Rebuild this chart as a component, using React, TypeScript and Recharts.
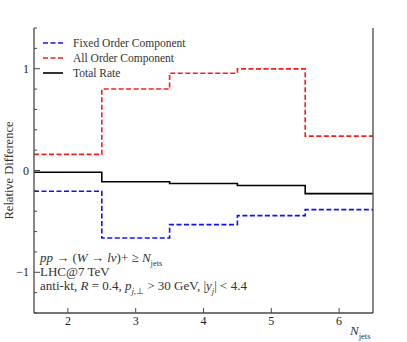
import React from "react";
import { LineChart, Line, XAxis, YAxis } from "recharts";

const binEdges = [1.5, 2.5, 3.5, 4.5, 5.5, 6.5];
const xTicks = [2, 3, 4, 5, 6];
const yTicks = [-1.4, -1.2, -1.0, -0.8, -0.6, -0.4, -0.2, 0, 0.2, 0.4, 0.6, 0.8, 1.0, 1.2, 1.4];
const fixedOrder = [-0.204, -0.663, -0.532, -0.443, -0.384];
const allOrder = [0.158, 0.8, 0.956, 0.998, 0.338];
const totalRate = [-0.017, -0.11, -0.128, -0.148, -0.227];
const seriesLabels = ["Fixed Order Component", "All Order Component", "Total Rate"];

const data = binEdges.map((x, i) => {
  const k = Math.min(i, fixedOrder.length - 1);
  return { x, fixed: fixedOrder[k], all: allOrder[k], total: totalRate[k] };
});

const W = 407;
const H = 342;
const PL = 34;
const PR = 373;
const PT = 28;
const PB = 313;
const FRAME = "#484848";
const FONT = "'Liberation Serif', 'Times New Roman', serif";
const BLUE = "#1010ff";
const RED = "#ff1a1a";
const DASH = "5 2.5";

const isMajor = (v: number) => Math.abs(v - Math.round(v)) < 1e-6;
const fmt = (v: number) => {
  const r = Math.round(v);
  return r < 0 ? "\u2212" + Math.abs(r) : String(r);
};

const LeftTick = (props: any) => {
  const { y, payload } = props;
  const v = payload.value;
  const major = isMajor(v);
  return (
    <g>
      <line x1={PL} x2={PL + (major ? 6 : 3)} y1={y} y2={y} stroke={FRAME} strokeWidth={1} />
      {major && (
        <text x={PL - 5} y={y} dy={4} textAnchor="end" fontSize={12} fontFamily={FONT} fill="#222">
          {fmt(v)}
        </text>
      )}
    </g>
  );
};

const RightTick = (props: any) => {
  const { y, payload } = props;
  const major = isMajor(payload.value);
  return <line x1={PR - (major ? 6 : 3)} x2={PR} y1={y} y2={y} stroke={FRAME} strokeWidth={1} />;
};

const BottomTick = (props: any) => {
  const { x, payload } = props;
  return (
    <g>
      <line x1={x} x2={x} y1={PB - 5} y2={PB} stroke={FRAME} strokeWidth={1} />
      <text x={x} y={PB + 12} textAnchor="middle" fontSize={12} fontFamily={FONT} fill="#222">
        {payload.value}
      </text>
    </g>
  );
};

const TopTick = (props: any) => {
  const { x } = props;
  return <line x1={x} x2={x} y1={PT} y2={PT + 5} stroke={FRAME} strokeWidth={1} />;
};

const legendItems = [
  { label: seriesLabels[0], color: BLUE, dash: DASH },
  { label: seriesLabels[1], color: RED, dash: DASH },
  { label: seriesLabels[2], color: "#000", dash: undefined },
];

const YLabel = () => {
  const cy = (PT + PB) / 2;
  return (
    <text
      x={13}
      y={cy}
      transform={`rotate(-90 13 ${cy})`}
      textAnchor="middle"
      fontSize={12.5}
      fontFamily={FONT}
      fill="#333"
    >
      Relative Difference
    </text>
  );
};

const subStyle = { fontSize: 8.5, lineHeight: 0 } as const;

export default function App() {
  return (
    <div style={{ position: "absolute", left: 0, top: 0, width: W, height: H, background: "#fff" }}>
      <LineChart width={W} height={H} data={data} margin={{ top: PT, right: 0, bottom: 0, left: 0 }}>
        <XAxis
          dataKey="x"
          type="number"
          domain={[1.5, 6.5]}
          ticks={xTicks}
          height={H - PB}
          axisLine={{ stroke: FRAME, strokeWidth: 1.3 }}
          tickLine={false}
          tick={<BottomTick />}
          interval={0}
        />
        <XAxis
          xAxisId="top"
          dataKey="x"
          orientation="top"
          type="number"
          domain={[1.5, 6.5]}
          ticks={xTicks}
          height={0}
          axisLine={{ stroke: FRAME, strokeWidth: 1.3 }}
          tickLine={false}
          tick={<TopTick />}
          interval={0}
        />
        <YAxis
          type="number"
          domain={[-1.4, 1.4]}
          ticks={yTicks}
          width={PL}
          axisLine={{ stroke: FRAME, strokeWidth: 1.3 }}
          tickLine={false}
          tick={<LeftTick />}
          interval={0}
          label={<YLabel />}
        />
        <YAxis
          yAxisId="right"
          orientation="right"
          type="number"
          domain={[-1.4, 1.4]}
          ticks={yTicks}
          width={W - PR}
          axisLine={{ stroke: FRAME, strokeWidth: 1.3 }}
          tickLine={false}
          tick={<RightTick />}
          interval={0}
        />
        <Line
          dataKey="fixed"
          name={seriesLabels[0]}
          type="stepAfter"
          stroke={BLUE}
          strokeWidth={1.6}
          strokeDasharray={DASH}
          dot={false}
          isAnimationActive={false}
        />
        <Line
          dataKey="all"
          name={seriesLabels[1]}
          type="stepAfter"
          stroke={RED}
          strokeWidth={1.6}
          strokeDasharray={DASH}
          dot={false}
          isAnimationActive={false}
        />
        <Line
          dataKey="total"
          name={seriesLabels[2]}
          type="stepAfter"
          stroke="#000"
          strokeWidth={1.6}
          dot={false}
          isAnimationActive={false}
        />
      </LineChart>
      <div
        style={{
          position: "absolute",
          left: 42,
          top: 35,
          fontFamily: FONT,
          fontSize: 11.5,
          color: "#333",
        }}
      >
        {legendItems.map((it) => (
          <div key={it.label} style={{ display: "flex", alignItems: "center", height: 15 }}>
            <svg width={22} height={6} style={{ marginRight: 9 }}>
              <line x1={1} x2={21} y1={3} y2={3} stroke={it.color} strokeWidth={1.6} strokeDasharray={it.dash} />
            </svg>
            <span>{it.label}</span>
          </div>
        ))}
      </div>
      <div
        style={{
          position: "absolute",
          left: 40,
          top: 251,
          fontFamily: FONT,
          fontSize: 13,
          color: "#333",
          lineHeight: "14px",
          whiteSpace: "nowrap",
        }}
      >
        <div>
          <i>pp</i> → (<i>W</i> → <i>lν</i>)+ ≥ <i>N</i>
          <sub style={subStyle}>jets</sub>
        </div>
        <div>LHC@7 TeV</div>
        <div>
          anti-kt, <i>R</i> = 0.4, <i>p</i>
          <sub style={subStyle}>
            <i>j</i>,⊥
          </sub>{" "}
          &gt; 30 GeV, |<i>y</i>
          <sub style={subStyle}>
            <i>j</i>
          </sub>
          | &lt; 4.4
        </div>
      </div>
      <div
        style={{
          position: "absolute",
          left: 350,
          top: 323,
          fontFamily: FONT,
          fontSize: 13,
          color: "#333",
          whiteSpace: "nowrap",
        }}
      >
        <i>N</i>
        <sub style={subStyle}>jets</sub>
      </div>
    </div>
  );
}
